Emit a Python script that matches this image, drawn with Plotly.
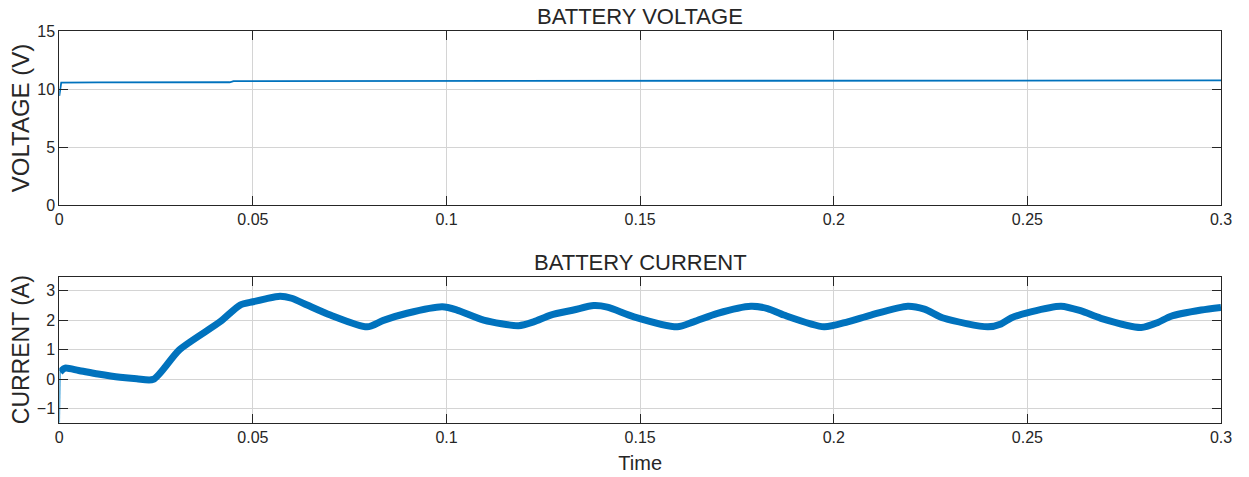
import plotly.graph_objects as go

# ---- data ----
volt_t = [0.0, 0.0005, 0.010, 0.020, 0.030, 0.044, 0.045, 0.100, 0.150, 0.200, 0.250, 0.300]
volt_v = [9.4, 10.55, 10.57, 10.56, 10.57, 10.58, 10.68, 10.69, 10.70, 10.71, 10.73, 10.74]

init_t = [0.0, 0.0002]
init_i = [-1.47, 0.25]

curr_t = [0.0002, 0.0015, 0.005, 0.010, 0.0157, 0.020, 0.0243, 0.031, 0.0415, 0.0467,
          0.050, 0.053, 0.057, 0.060, 0.064, 0.070, 0.0795, 0.0837, 0.0898, 0.0989,
          0.1027, 0.1096, 0.1186, 0.1225, 0.1269, 0.1328, 0.138, 0.1415, 0.1484, 0.1596,
          0.1638, 0.170, 0.1786, 0.1829, 0.1871, 0.1975, 0.2036, 0.2096, 0.2191, 0.2234,
          0.2285, 0.2398, 0.2432, 0.2458, 0.2509, 0.2587, 0.2639, 0.269, 0.2794, 0.2837,
          0.2871, 0.2949, 0.300]
curr_i = [0.25, 0.38, 0.30, 0.18, 0.07, 0.02, 0.0, 1.0, 1.95, 2.52,
          2.63, 2.72, 2.82, 2.75, 2.52, 2.18, 1.78, 2.0, 2.24, 2.46,
          2.35, 2.01, 1.82, 1.95, 2.18, 2.35, 2.50, 2.45, 2.12, 1.78,
          1.95, 2.24, 2.48, 2.40, 2.18, 1.78, 1.95, 2.18, 2.48, 2.38,
          2.07, 1.78, 1.88, 2.08, 2.29, 2.48, 2.32, 2.07, 1.76, 1.93,
          2.14, 2.35, 2.44]

x_ticks = [0, 0.05, 0.1, 0.15, 0.2, 0.25, 0.3]
x_tick_text = ["0", "0.05", "0.1", "0.15", "0.2", "0.25", "0.3"]
v_ticks = [0, 5, 10, 15]
i_ticks = [-1, 0, 1, 2, 3]

titles = ["BATTERY VOLTAGE", "BATTERY CURRENT"]
y_titles = ["VOLTAGE (V)", "CURRENT (A)"]
x_title = "Time"

# ---- styling ----
W, H = 1249, 477
BLUE = "#0072BD"
DARK = "#262626"
GRID = "#d4d4d4"
FONT = "Liberation Sans, Arial, sans-serif"

fig = go.Figure()
fig.add_trace(go.Scatter(x=volt_t, y=volt_v, mode="lines", xaxis="x", yaxis="y",
                         line=dict(color=BLUE, width=1.8), showlegend=False))
fig.add_trace(go.Scatter(x=init_t, y=init_i, mode="lines", xaxis="x2", yaxis="y2",
                         line=dict(color="#3fa0d8", width=1.5), showlegend=False))
fig.add_trace(go.Scatter(x=curr_t, y=curr_i, mode="lines", xaxis="x2", yaxis="y2",
                         line=dict(color=BLUE, width=7, shape="spline", smoothing=0.7),
                         showlegend=False))


def px_x(p):
    return p / W


def px_y(p):
    return 1 - p / H


xd = [px_x(59.3), px_x(1221)]
top_dom = [px_y(205), px_y(31)]
bot_dom = [px_y(422.7), px_y(276.7)]

common = dict(showgrid=True, gridcolor=GRID, gridwidth=1, zeroline=False,
              showline=True, linecolor=DARK, linewidth=1, mirror="ticks",
              ticks="inside", ticklen=9, tickcolor=DARK, tickwidth=1,
              tickfont=dict(family=FONT, size=16, color=DARK), automargin=False)

fig.update_layout(
    width=W, height=H,
    margin=dict(l=0, r=0, t=0, b=0),
    plot_bgcolor="white", paper_bgcolor="white",
    xaxis=dict(domain=xd, range=[0, 0.3], tickvals=x_ticks, ticktext=x_tick_text,
               anchor="y", **common),
    yaxis=dict(domain=top_dom, range=[0, 15], tickvals=v_ticks, anchor="x",
               title=dict(text=y_titles[0], font=dict(family=FONT, size=24, color=DARK), standoff=0),
               **common),
    xaxis2=dict(domain=xd, range=[0, 0.3], tickvals=x_ticks, ticktext=x_tick_text,
                anchor="y2",
                title=dict(text=x_title, font=dict(family=FONT, size=20, color=DARK), standoff=11),
                **common),
    yaxis2=dict(domain=bot_dom, range=[-1.47, 3.48], tickvals=i_ticks, anchor="x2",
                title=dict(text=y_titles[1], font=dict(family=FONT, size=23, color=DARK), standoff=0),
                **common),
    annotations=[
        dict(text=titles[0], x=(xd[0] + xd[1]) / 2, y=px_y(16), xref="paper", yref="paper",
             showarrow=False, xanchor="center", yanchor="middle",
             font=dict(family=FONT, size=22, color=DARK)),
        dict(text=titles[1], x=(xd[0] + xd[1]) / 2, y=px_y(262), xref="paper", yref="paper",
             showarrow=False, xanchor="center", yanchor="middle",
             font=dict(family=FONT, size=22, color=DARK)),
    ],
)

fig.write_html("out.html",
               config={"displayModeBar": False},
               post_script="document.body.style.margin='0';document.body.style.padding='0';")
